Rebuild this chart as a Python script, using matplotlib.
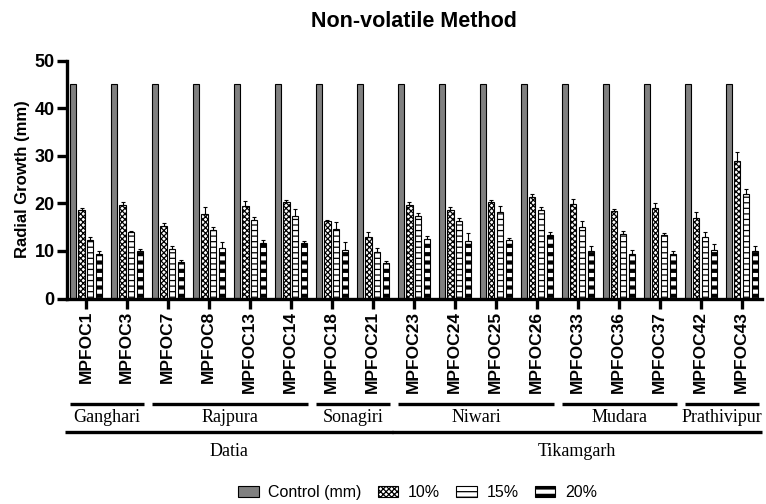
import numpy as np
import matplotlib
matplotlib.use("Agg")
import matplotlib.pyplot as plt
from matplotlib.transforms import blended_transform_factory
from matplotlib.patches import Patch

isolates = ["MPFOC1", "MPFOC3", "MPFOC7", "MPFOC8", "MPFOC13", "MPFOC14",
            "MPFOC18", "MPFOC21", "MPFOC23", "MPFOC24", "MPFOC25", "MPFOC26",
            "MPFOC33", "MPFOC36", "MPFOC37", "MPFOC42", "MPFOC43"]

control = [45] * 17
conc10 = [18.7, 19.7, 15.3, 17.7, 19.4, 20.3, 16.4, 12.9, 19.7, 18.7, 20.3, 21.4,
          19.9, 18.3, 19.0, 17.0, 28.9]
conc15 = [12.4, 13.9, 10.5, 14.5, 16.6, 17.3, 14.6, 9.7, 17.3, 16.3, 18.2, 18.7,
          15.0, 13.6, 13.3, 12.9, 22.0]
conc20 = [9.3, 9.9, 7.7, 10.6, 11.7, 11.7, 10.3, 7.4, 12.6, 12.0, 12.3, 13.3,
          9.9, 9.3, 9.3, 10.3, 9.9]
err10 = [0.4, 0.5, 0.5, 1.5, 1.1, 0.5, 0.2, 1.0, 0.5, 0.5, 0.5, 0.5, 1.0, 0.5, 1.0, 1.1, 2.0]
err15 = [0.5, 0.2, 0.5, 0.6, 0.5, 1.5, 1.5, 1.0, 0.6, 0.6, 1.3, 0.6, 1.3, 0.6, 0.5, 1.1, 1.0]
err20 = [0.6, 0.5, 0.5, 1.3, 0.6, 0.3, 1.6, 0.5, 0.6, 1.8, 0.5, 0.6, 1.2, 1.0, 0.6, 1.2, 1.2]

# (name, first isolate index, last isolate index)
villages = [("Ganghari", 0, 1), ("Rajpura", 2, 5), ("Sonagiri", 6, 7),
            ("Niwari", 8, 11), ("Mudara", 12, 14), ("Prathivipur", 15, 16)]
districts = [("Datia", 0, 7), ("Tikamgarh", 8, 16)]

plt.rcParams['font.family'] = ['Liberation Sans', 'DejaVu Sans']
plt.rcParams['hatch.linewidth'] = 0.9

fig = plt.figure(figsize=(7.66, 5.04), dpi=100)
ax = fig.add_axes([0.0875, 0.4077, 0.907, 0.4719])

x = np.arange(len(isolates))
w = 0.15
step = 0.212

series = [
    (control, None, "#808080", None, "Control (mm)"),
    (conc10, err10, "white", "xxxxxx", "10%"),
    (conc15, err15, "white", "---", "15%"),
    (conc20, err20, "white", "--", "20%"),
]


def thick_hatch(p):
    if hasattr(p, "set_hatch_linewidth"):
        p.set_hatch_linewidth(3.0)


for i, (vals, err, color, hatch, label) in enumerate(series):
    pos = x + (i - 1.5) * step
    bars = ax.bar(pos, vals, w, color=color, edgecolor="black", linewidth=0.8,
                  hatch=hatch, label=label, zorder=2)
    if i == 3:
        for b in bars:
            thick_hatch(b)
    if err is not None:
        ax.errorbar(pos, vals, yerr=[np.zeros(len(err)), err], fmt="none",
                    ecolor="black", elinewidth=0.8, capsize=1.5, capthick=0.8, zorder=3)

ax.set_ylim(0, 50)
ax.set_xlim(-0.46, 16.49)
ax.set_yticks([0, 10, 20, 30, 40, 50])
ax.set_xticks(x)
ax.set_xticklabels(isolates, rotation=90, fontsize=12.5, fontweight="bold")
for lab in ax.get_yticklabels():
    lab.set_fontsize(13)
    lab.set_fontweight("bold")
ax.tick_params(axis="both", length=7, width=2.4, direction="out", pad=2)
for s in ["top", "right"]:
    ax.spines[s].set_visible(False)
for s in ["left", "bottom"]:
    ax.spines[s].set_linewidth(2.4)
ax.set_ylabel("Radial Growth (mm)", fontsize=12, fontweight="bold", labelpad=3)
ax.set_title("Non-volatile Method", fontsize=15.5, fontweight="bold", pad=24)

tr = blended_transform_factory(ax.transData, fig.transFigure)
serif = ['Liberation Serif', 'DejaVu Serif']
for name, a, b in villages:
    x0, x1 = a - 0.38, b + 0.42
    ax.plot([x0, x1], [0.1984, 0.1984], color="black", lw=2.4, transform=tr, clip_on=False,
            solid_capstyle="butt")
    ax.text((x0 + x1) / 2, 0.1712, name, transform=tr, ha="center", va="center",
            fontsize=13, family=serif)
for name, a, b in districts:
    x0, x1 = a - 0.52, b + 0.49
    ax.plot([x0, x1], [0.1435, 0.1435], color="black", lw=2.4, transform=tr, clip_on=False,
            solid_capstyle="butt")
    ax.text((x0 + x1) / 2, 0.1032, name, transform=tr, ha="center", va="center",
            fontsize=13, family=serif)

handles = []
for (_, _, c, h, l) in series:
    p = Patch(facecolor=c, edgecolor="black", linewidth=0.8, hatch=h, label=l)
    if l == "20%":
        thick_hatch(p)
    handles.append(p)
leg = fig.legend(handles=handles, loc="center", bbox_to_anchor=(0.545, 0.022), ncol=4,
                 frameon=False, fontsize=11.5, handlelength=1.3, handleheight=0.7,
                 columnspacing=1.0, handletextpad=0.6)
if hasattr(leg, "legend_handles"):
    for lh in leg.legend_handles:
        if lh.get_label() == "20%":
            thick_hatch(lh)

fig.savefig("out.png", dpi=100)
